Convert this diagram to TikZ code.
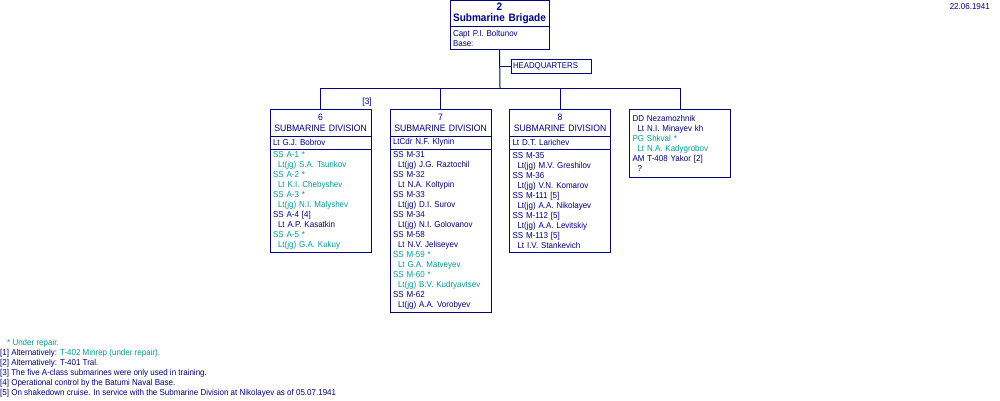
\documentclass[tikz,border=0pt]{standalone}
\usepackage{fontspec}
\setmainfont{Liberation Sans}[FakeStretch=0.93]
\usetikzlibrary{positioning}
\definecolor{navy}{RGB}{0,0,128}
\definecolor{sea}{RGB}{0,153,153}

\tikzset{
    box/.style={draw=navy, line width=1pt, text=navy, inner xsep=3pt, inner ysep=0pt, outer sep=0pt},
    head/.style={box, text width=95pt, align=center, font=\fontsize{9.3}{11}\selectfont},
    cmd/.style={box, text width=95pt, align=left, minimum height=13pt, font=\fontsize{8.6}{10}\selectfont},
    roster/.style={box, text width=95pt, align=left, font=\fontsize{8.6}{10}\selectfont},
    link/.style={draw=navy, line width=1pt},
    note/.style={text=navy, inner sep=0pt, align=left, font=\fontsize{8.6}{10}\selectfont}
}

\begin{document}
\begin{tikzpicture}[x=1pt,y=-1pt]
        \def\ind{\hspace*{5pt}}
        \def\rep#1{\textcolor{sea}{#1}}
        \useasboundingbox (0,0) rectangle (1000,400);

        % Brigade
        \node[box, anchor=north, text width=93pt, align=center, minimum height=26pt, font=\bfseries\fontsize{10.8}{11}\selectfont] (brig) at (499.5,0.5) {2\\Submarine Brigade};
        \node[cmd, text width=93pt, minimum height=23pt, below=0pt of brig] (brigcmd) {Capt P.I. Boltunov\\Base:};
        \node[box, text width=76pt, inner xsep=2pt, minimum height=14pt, align=left, font=\fontsize{8.4}{10}\selectfont] (hq) at (551,66) {HEADQUARTERS};
        \node[note, anchor=east] (date) at (990,7) {22.06.1941};

        % Divisions
        \node[head, anchor=north, minimum height=27pt] (div6) at (320.5,109) {6\\SUBMARINE DIVISION};
        \node[cmd, below=0pt of div6] (div6cmd) {Lt G.J. Bobrov};
        \node[roster, minimum height=103pt, below=0pt of div6cmd] (div6ships) {%
            \rep{SS A-1 *}\\\rep{\ind Lt(jg) S.A. Tsurikov}\\
            \rep{SS A-2 *}\\\rep{\ind Lt K.I. Chebyshev}\\
            \rep{SS A-3 *}\\\rep{\ind Lt(jg) N.I. Malyshev}\\
            SS A-4 [4]\\\ind Lt A.P. Kasatkin\\
            \rep{SS A-5 *}\\\rep{\ind Lt(jg) G.A. Kukuy}};
        \node[note, font=\fontsize{9}{10}\selectfont, anchor=east] (note3) at (372,102) {[3]};

        \node[head, anchor=north, minimum height=27pt] (div7) at (440.5,109) {7\\SUBMARINE DIVISION};
        \node[cmd, below=0pt of div7] (div7cmd) {LtCdr N.F. Klynin};
        \node[roster, minimum height=163pt, below=0pt of div7cmd] (div7ships) {%
            SS M-31\\\ind Lt(jg) J.G. Raztochil\\
            SS M-32\\\ind Lt N.A. Koltypin\\
            SS M-33\\\ind Lt(jg) D.I. Surov\\
            SS M-34\\\ind Lt(jg) N.I. Golovanov\\
            SS M-58\\\ind Lt N.V. Jeliseyev\\
            \rep{SS M-59 *}\\\rep{\ind Lt G.A. Matveyev}\\
            \rep{SS M-60 *}\\\rep{\ind Lt(jg) B.V. Kudryavtsev}\\
            SS M-62\\\ind Lt(jg) A.A. Vorobyev};

        \node[head, anchor=north, minimum height=27pt] (div8) at (560,109) {8\\SUBMARINE DIVISION};
        \node[cmd, below=0pt of div8] (div8cmd) {Lt D.T. Larichev};
        \node[roster, minimum height=103pt, below=0pt of div8cmd] (div8ships) {%
            SS M-35\\\ind Lt(jg) M.V. Greshilov\\
            SS M-36\\\ind Lt(jg) V.N. Komarov\\
            SS M-111 [5]\\\ind Lt(jg) A.A. Nikolayev\\
            SS M-112 [5]\\\ind Lt(jg) A.A. Levitskiy\\
            SS M-113 [5]\\\ind Lt I.V. Stankevich};

        % Other ships
        \node[roster, anchor=north, minimum height=68pt] (misc) at (680,109) {%
            DD Nezamozhnik\\\ind Lt N.I. Minayev kh\\
            \rep{PG Shkval *}\\\rep{\ind Lt N.A. Kadygrobov}\\
            AM T-408 Yakor [2]\\\ind ?};

        % Lines
        \coordinate (bus) at (500,88);
        \draw[link] (brigcmd.south) -- (bus);
        \draw[link] (brigcmd.south |- hq.west) -- (hq.west);
        \foreach \d in {div6,div7,div8,misc}
            \draw[link] (bus) -| (\d.north);

        % Notes
        \node[note, anchor=north west] (notes) at (0,339) {%
            \rep{\hspace*{7pt}* Under repair.}\\
            {}[1] Alternatively: \rep{T-402 Minrep (under repair).}\\
            {}[2] Alternatively: T-401 Tral.\\
            {}[3] The five A-class submarines were only used in training.\\
            {}[4] Operational control by the Batumi Naval Base.\\
            {}[5] On shakedown cruise. In service with the Submarine Division at Nikolayev as of 05.07.1941};
\end{tikzpicture}
\end{document}
